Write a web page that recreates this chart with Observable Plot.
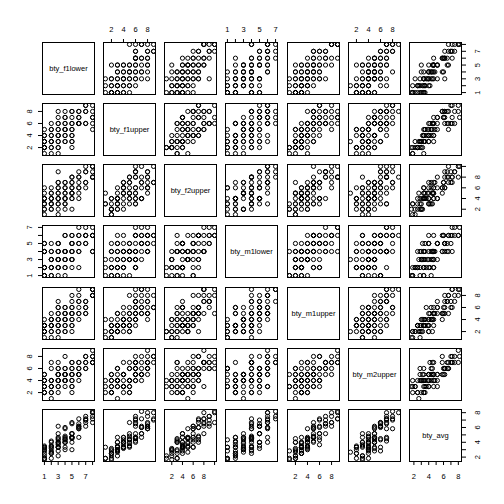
<!DOCTYPE html>
<html><head><meta charset="utf-8">
<script src="https://cdn.jsdelivr.net/npm/d3@7"></script>
<script src="https://cdn.jsdelivr.net/npm/@observablehq/plot@0.6"></script>
<style>
html,body{margin:0;padding:0;background:#fff;}
#chart{position:relative;width:504px;height:504px;overflow:hidden;background:#fff;}
#chart svg{position:absolute;}
</style></head><body><div id="chart"></div>
<script>
// Beauty ratings (one row per professor), read from the scatterplot matrix
const bty_f1lower = [1,1,1,1,1,1,1,1,1,1,1, 2,2,2,2,2,2,2,2,2,2,2, 3,3,3,3,3,3,3,3,3,3,3,3,3,3, 4,4,4,4,4,4,4,4,4,4,4,4, 5,5,5,5,5,5,5,5,5,5,5,5, 6,6,6,6,6,6,6,6, 7,7,7,7,7,7, 8,8,8,8,8,8];
const bty_f1upper = [2,1,2,3,2,3,4,5,4,3,2, 2,1,3,2,4,3,5,4,6,5,3, 1,2,3,2,4,3,5,4,6,5,7,6,8,4, 3,4,3,5,4,6,5,7,8,6,7,5, 2,3,4,5,3,6,4,7,8,8,6,5, 6,6,7,8,8,6,7,6, 6,8,9,8,6,9, 5,6,7,8,9,7];
const bty_f2upper = [2,3,1,2,3,4,5,4,6,3,4, 4,3,5,2,6,3,4,2,3,5,4, 5,1,4,2,6,3,7,4,3,5,4,6,9,7, 4,5,2,6,3,4,3,4,6,5,7,7, 2,4,7,5,6,6,5,4,7,8,5,8, 4,9,7,6,5,8,6,8, 9,6,7,9,10,7, 8,9,10,8,10,8];
const bty_m1lower = [1,2,1,2,4,2,4,5,1,4,5, 2,1,3,2,5,1,4,3,2,3,4, 3,2,1,4,2,5,3,2,4,3,5,4,5,3, 2,4,3,1,6,2,4,3,4,3,6,4, 3,5,2,4,6,3,4,5,6,4,3,5, 2,5,6,4,6,7,5,4, 6,5,6,7,6,5, 4,6,7,6,6,4];
const bty_m1upper = [1,2,2,2,3,3,3,4,3,3,2, 3,1,2,3,4,2,3,4,5,3,4, 4,2,3,1,3,5,2,6,4,3,7,5,6,4, 3,2,2,4,4,3,6,5,5,4,6,5, 4,3,5,2,5,6,3,6,8,7,4,5, 6,7,5,4,5,9,8,7, 7,5,6,7,5,6, 8,8,9,9,8,9];
const bty_m2upper = [3,2,4,3,2,4,3,2,5,4,5, 2,3,1,4,3,6,2,4,7,3,4, 4,3,6,5,2,5,4,3,7,4,5,4,6,5, 4,5,4,6,3,5,4,5,8,5,6,4, 2,4,5,6,3,5,7,4,6,7,5,3, 4,6,5,7,5,7,5,6, 7,6,8,7,6,8, 7,8,8,9,7,7];
const bty_avg = [1.667,1.833,1.833,2.167,2.5,2.833,3.333,3.5,3.333,3,3.167,
  2.5,1.833,2.667,2.5,4,2.833,3.333,3.167,4.167,3.5,3.5,
  3.333,2.167,3.333,2.833,3.333,4,4,3.667,4.5,3.833,5.167,4.667,6.167,4.333,
  3.333,4,3,4.333,4,4,4.333,4.667,5.833,4.5,6,4.833,
  3,4,4.667,4.5,4.667,5.167,4.667,5.167,6.667,6.5,4.667,5.167,
  4.667,6.5,6,5.833,5.833,7.167,6.167,6.167,
  7,6.167,7.167,7.5,6.667,7,
  6.667,7.5,8.167,8,8,7.167];

const varNames = ["bty_f1lower","bty_f1upper","bty_f2upper","bty_m1lower","bty_m1upper","bty_m2upper","bty_avg"];
const tickValues = {
  bty_f1lower: [1,2,3,4,5,6,7,8],
  bty_f1upper: [2,4,6,8],
  bty_f2upper: [2,4,6,8,10],
  bty_m1lower: [1,2,3,4,5,6,7],
  bty_m1upper: [2,4,6,8],
  bty_m2upper: [2,4,6,8],
  bty_avg: [2,3,4,5,6,7,8]
};
const tickLabels = {
  bty_f1lower: [1,3,5,7],
  bty_f1upper: [2,4,6,8],
  bty_f2upper: [2,4,6,8],
  bty_m1lower: [1,3,5,7],
  bty_m1upper: [2,4,6,8],
  bty_m2upper: [2,4,6,8],
  bty_avg: [2,4,6,8]
};

const cols = {bty_f1lower, bty_f1upper, bty_f2upper, bty_m1lower, bty_m1upper, bty_m2upper, bty_avg};
const rows = d3.range(bty_f1lower.length).map(k => Object.fromEntries(varNames.map(v => [v, cols[v][k]])));
const padded = v => { const [a, b] = d3.extent(cols[v]); const p = (b - a) * 0.04; return [a - p, b + p]; };

const S = 52, M = 30, START = 42, STEP = 61.15;
const FONT = "'Liberation Sans', Arial, Helvetica, sans-serif";
const FS = 7.5;
const root = document.getElementById("chart");

varNames.forEach((yv, i) => varNames.forEach((xv, j) => {
  const top = i === 0 && j % 2 === 1;
  const bottom = i === 6 && j % 2 === 0;
  const left = j === 0 && i % 2 === 1;
  const right = j === 6 && i % 2 === 0;
  const marks = [];
  if (i === j) {
    marks.push(Plot.text([yv], {frameAnchor: "middle", text: d => d, fontSize: FS, fill: "black"}));
  } else {
    marks.push(Plot.dot(rows, {x: xv, y: yv, r: 2.1, stroke: "black", fill: "none", strokeWidth: 1, clip: true}));
  }
  marks.push(Plot.frame({stroke: "black", strokeWidth: 1}));
  if (top) marks.push(Plot.text(tickLabels[xv], {x: d => d, frameAnchor: "top", dy: -13, text: d => String(d), lineAnchor: "middle", fontSize: FS, fill: "black"}));
  if (bottom) marks.push(Plot.text(tickLabels[xv], {x: d => d, frameAnchor: "bottom", dy: 15.5, text: d => String(d), lineAnchor: "middle", fontSize: FS, fill: "black"}));
  if (left) marks.push(Plot.text(tickLabels[yv], {y: d => d, frameAnchor: "left", dx: -12.5, rotate: -90, text: d => String(d), lineAnchor: "middle", textAnchor: "middle", fontSize: FS, fill: "black"}));
  if (right) marks.push(Plot.text(tickLabels[yv], {y: d => d, frameAnchor: "right", dx: 16.5, rotate: -90, text: d => String(d), lineAnchor: "middle", textAnchor: "middle", fontSize: FS, fill: "black"}));

  const svg = Plot.plot({
    width: S + 2 * M, height: S + 2 * M,
    marginTop: M, marginRight: M, marginBottom: M, marginLeft: M,
    style: {background: "transparent", overflow: "visible", fontFamily: FONT, fontSize: FS + "px", color: "black"},
    x: {domain: padded(xv), label: null, axis: top ? "top" : bottom ? "bottom" : null,
        ticks: tickValues[xv], tickSize: 4, tickFormat: () => ""},
    y: {domain: padded(yv), label: null, axis: left ? "left" : right ? "right" : null,
        ticks: tickValues[yv], tickSize: 4, tickFormat: () => ""},
    marks
  });
  svg.style.left = (START + STEP * j - M) + "px";
  svg.style.top = (START + STEP * i - M) + "px";
  root.appendChild(svg);
}));
</script></body></html>
